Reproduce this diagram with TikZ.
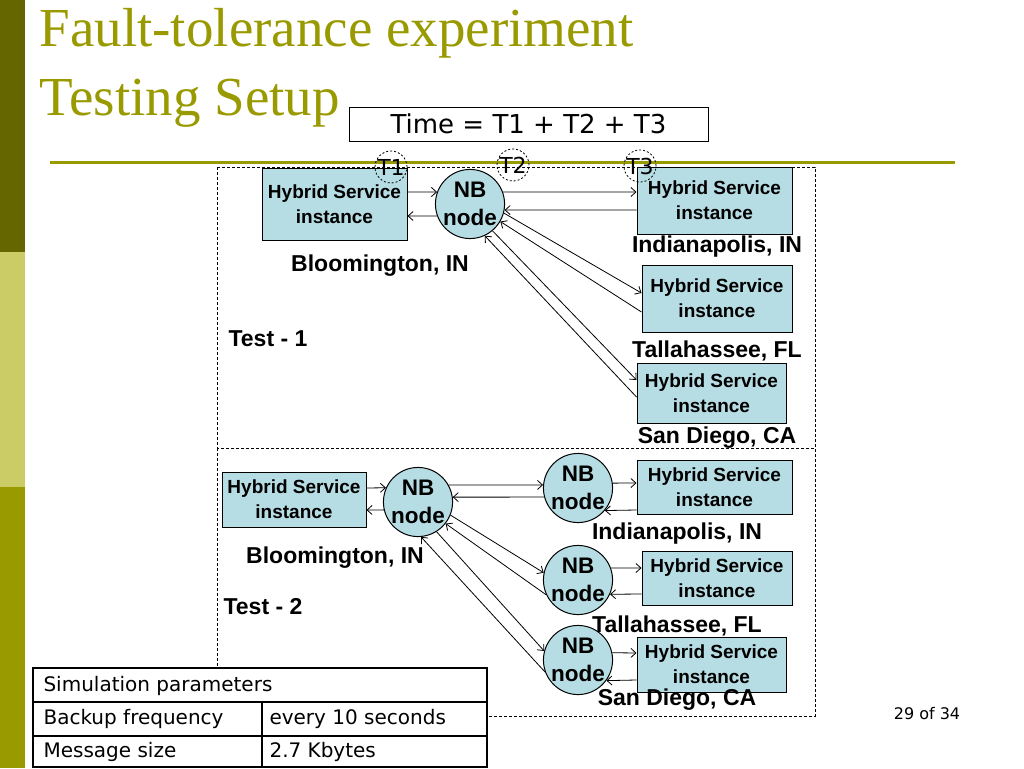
\documentclass[tikz,border=0pt]{standalone}
\usepackage{fontspec}
\setmainfont{Liberation Sans}
\newfontfamily\titlefont{Liberation Serif}
\newfontfamily\tahomafont{DejaVu Sans}
\usetikzlibrary{arrows.meta}
\definecolor{olive}{RGB}{153,153,0}
\definecolor{darkolive}{RGB}{102,102,0}
\definecolor{lightolive}{RGB}{204,204,102}
\definecolor{hsblue}{RGB}{183,221,228}
\tikzstyle{service}=[draw, fill=hsblue, line width=1pt, align=center, inner sep=0, font=\fontsize{19}{25}\selectfont\bfseries]
\tikzstyle{broker}=[draw, circle, fill=hsblue, line width=1pt, minimum size=69pt, inner sep=0, align=center, font=\fontsize{22.5}{28}\selectfont\bfseries]
\tikzstyle{place}=[font=\fontsize{23}{25}\selectfont\bfseries]
\tikzstyle{timer}=[draw, circle, dash pattern=on 2pt off 2pt, line width=0.8pt, minimum size=32pt, inner sep=0, font=\tahomafont\fontsize{22}{22}\selectfont]
\tikzstyle{frame}=[draw, dash pattern=on 3pt off 2pt, line width=0.8pt]
\tikzstyle{msg}=[-{Straight Barb[length=5pt, width=9pt]}, line width=0.8pt]
\tikzstyle{cell}=[anchor=west, font=\tahomafont\fontsize{20}{20}\selectfont]

\begin{document}
\begin{tikzpicture}[x=1pt, y=-1pt]
          \useasboundingbox (0,0) rectangle (1024,768);
          \fill[darkolive] (0,0) rectangle (25,252);
          \fill[lightolive] (0,252) rectangle (25,487);
          \fill[olive] (0,487) rectangle (25,768);

          \node[anchor=base west, text=olive, font=\titlefont\fontsize{55}{55}\selectfont] (title) at (36,47) {Fault-tolerance experiment};
          \node[anchor=base west, text=olive, font=\titlefont\fontsize{55}{55}\selectfont] (subtitle) at (36,115) {Testing Setup};
          \draw[olive, line width=3pt] (50,162) -- (955,162);
          \node[draw, line width=1pt, minimum width=359pt, minimum height=34pt, inner sep=0, font=\tahomafont\fontsize{26}{26}\selectfont] (total) at (528.5,124) {Time = T1 + T2 + T3};

          \draw[frame] (217,167) rectangle (815,448);
          \draw[frame] (217,448) rectangle (815,716);

          % Test - 1
          \node[service, minimum width=145pt, minimum height=72pt] (bhs1) at (334.5,204) {Hybrid Service\\instance};
          \node[broker] (bnb1) at (470,204) {NB\\node};
          \node[service, minimum width=155pt, minimum height=67pt] (ihs1) at (714.5,200.5) {Hybrid Service\\instance};
          \node[service, minimum width=150pt, minimum height=67pt] (ths1) at (717,298.5) {Hybrid Service\\instance};
          \node[service, minimum width=149pt, minimum height=60pt] (shs1) at (711.5,393) {Hybrid Service\\instance};
          \node[place] (bl1) at (380,266) {Bloomington, IN};
          \node[place] (il1) at (717,247) {Indianapolis, IN};
          \node[place] (tl1) at (717,351) {Tallahassee, FL};
          \node[place] (sl1) at (717,438) {San Diego, CA};
          \node[place] (test1) at (268,339) {Test - 1};

          \draw[msg] ([yshift=12pt]bhs1.east) -- (bnb1.160);
          \draw[msg] (bnb1.200) -- ([yshift=-12pt]bhs1.east);
          \draw[msg] (bnb1.20) -- ([yshift=8.5pt]ihs1.west);
          \draw[msg] ([yshift=-9.5pt]ihs1.west) -- (bnb1.350);
          \draw[msg] (bnb1.-15) -- ([yshift=5.5pt]ths1.west);
          \draw[msg] ([yshift=-13.5pt]ths1.west) -- (bnb1.-30);
          \draw[msg] (bnb1.-50) -- ([yshift=13pt]shs1.west);
          \draw[msg] ([yshift=-4pt]shs1.west) -- (bnb1.-65);

          \node[timer] (t1) at (391,167) {T1};
          \node[timer] (t2) at (513,165) {T2};
          \node[timer] (t3) at (640,166) {T3};

          % Test - 2
          \node[service, minimum width=144pt, minimum height=55pt] (bhs2) at (294,499.5) {Hybrid Service\\instance};
          \node[broker] (bnb2) at (418,502) {NB\\node};
          \node[broker] (inb2) at (578,488) {NB\\node};
          \node[broker] (tnb2) at (578,580) {NB\\node};
          \node[broker] (snb2) at (578,660) {NB\\node};
          \node[service, minimum width=155pt, minimum height=54pt] (ihs2) at (714.5,487) {Hybrid Service\\instance};
          \node[service, minimum width=150pt, minimum height=54pt] (ths2) at (717,578) {Hybrid Service\\instance};
          \node[service, minimum width=149pt, minimum height=55pt] (shs2) at (711.5,664.5) {Hybrid Service\\instance};
          \node[place] (bl2) at (335,558) {Bloomington, IN};
          \node[place] (il2) at (677,534) {Indianapolis, IN};
          \node[place] (tl2) at (677,626) {Tallahassee, FL};
          \node[place] (sl2) at (677,700) {San Diego, CA};
          \node[place] (test2) at (263,607) {Test - 2};

          \draw[msg] ([yshift=11.5pt]bhs2.east) -- (bnb2.156);
          \draw[msg] (bnb2.193) -- ([yshift=-10.5pt]bhs2.east);
          \draw[msg] (bnb2.29) -- (inb2.175);
          \draw[msg] (inb2.195) -- (bnb2.8);
          \draw[msg] (bnb2.-22) -- (tnb2.168);
          \draw[msg] (tnb2.205) -- (bnb2.-38);
          \draw[msg] (bnb2.-58) -- (snb2.165);
          \draw[msg] (snb2.200) -- (bnb2.-85);
          \draw[msg] (inb2.8) -- ([yshift=4pt]ihs2.west);
          \draw[msg] ([yshift=-23pt]ihs2.west) -- (inb2.320);
          \draw[msg] (tnb2.20) -- ([yshift=10pt]ths2.west);
          \draw[msg] ([yshift=-16pt]ths2.west) -- (tnb2.336);
          \draw[msg] (snb2.12) -- ([yshift=11.5pt]shs2.west);
          \draw[msg] ([yshift=-15.5pt]shs2.west) -- (snb2.324);

          % parameters
          \draw[fill=white, line width=2.5pt] (33,668) rectangle (487,767);
          \draw[line width=1.5pt] (33,702) -- (487,702);
          \draw[line width=1.5pt] (33,736) -- (487,736);
          \draw[line width=1.5pt] (262,702) -- (262,767);
          \node[cell] (param) at (40,686) {Simulation parameters};
          \node[cell] (freq) at (40,719) {Backup frequency};
          \node[cell] (freqv) at (266,719) {every 10 seconds};
          \node[cell] (size) at (40,752) {Message size};
          \node[cell] (sizev) at (266,752) {2.7 Kbytes};

          \node[font=\tahomafont\fontsize{16}{16}\selectfont] (page) at (927,714) {29 of 34};
        \end{tikzpicture}
\end{document}
